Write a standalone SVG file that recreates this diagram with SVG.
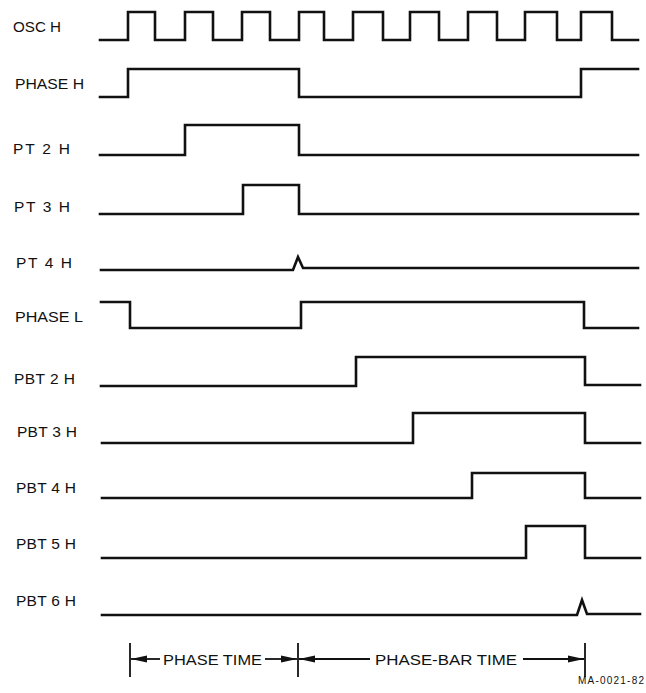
<svg xmlns="http://www.w3.org/2000/svg" width="646" height="693" viewBox="0 0 646 693">
<style>
.bg{fill:#ffffff}
.w{fill:none;stroke:#111;stroke-width:2.6;stroke-linejoin:miter;stroke-linecap:square}
.lbl{font-family:"Liberation Sans",Arial,sans-serif;font-size:15.5px;fill:#111}
.dim{fill:none;stroke:#111;stroke-width:1.8}
.tick{fill:none;stroke:#111;stroke-width:1.8}
.note{font-family:"Liberation Sans",Arial,sans-serif;font-size:10px;fill:#111}
</style>
<defs>
<marker id="ah" viewBox="0 0 16 10" refX="16" refY="5" markerWidth="16" markerHeight="10" markerUnits="userSpaceOnUse" orient="auto-start-reverse">
<path d="M0,1.5 L16,5 L0,8.5 Z" fill="#111"/>
</marker>
</defs>
<rect class="bg" x="0" y="0" width="646" height="693"/>
<g id="osc-h">
<text class="lbl" x="13" y="32" textLength="48" lengthAdjust="spacingAndGlyphs">OSC H</text>
<path class="w" d="M100,40 H128 V12 H155 V40 H185 V12 H213 V40 H242 V12 H270 V40 H299 V12 H324 V40 H353 V12 H383 V40 H410 V12 H439 V40 H468 V12 H497 V40 H525 V12 H557 V40 H581 V12 H612 V40 H638"/>
</g>
<g id="phase-h">
<text class="lbl" x="15" y="89" textLength="69" lengthAdjust="spacingAndGlyphs">PHASE H</text>
<path class="w" d="M100,97 H128 V69 H299 V97 H581 V69 H638"/>
</g>
<g id="pt2-h">
<text class="lbl" x="13" y="154" textLength="57" lengthAdjust="spacing">PT 2 H</text>
<path class="w" d="M100,155 H185 V125 H299 V155 H638"/>
</g>
<g id="pt3-h">
<text class="lbl" x="14" y="212" textLength="56" lengthAdjust="spacing">PT 3 H</text>
<path class="w" d="M100,214 H243 V185 H299 V214 H638"/>
</g>
<g id="pt4-h">
<text class="lbl" x="16" y="268" textLength="56" lengthAdjust="spacing">PT 4 H</text>
<path class="w" d="M101,270 H293 L298,257 L303,268 H638"/>
</g>
<g id="phase-l">
<text class="lbl" x="15" y="322" textLength="68" lengthAdjust="spacingAndGlyphs">PHASE L</text>
<path class="w" d="M101,302 H130 V328 H301 V302 H584 V328 H638"/>
</g>
<g id="pbt2-h">
<text class="lbl" x="14" y="384" textLength="61" lengthAdjust="spacing">PBT 2 H</text>
<path class="w" d="M101,386 H356 V357 H585 V385 H640"/>
</g>
<g id="pbt3-h">
<text class="lbl" x="17" y="437" textLength="60" lengthAdjust="spacing">PBT 3 H</text>
<path class="w" d="M102,443 H413 V413 H585 V443 H640"/>
</g>
<g id="pbt4-h">
<text class="lbl" x="16" y="493" textLength="60" lengthAdjust="spacing">PBT 4 H</text>
<path class="w" d="M102,498 H472 V473 H585 V498 H640"/>
</g>
<g id="pbt5-h">
<text class="lbl" x="16" y="549" textLength="60" lengthAdjust="spacing">PBT 5 H</text>
<path class="w" d="M102,558 H526 V526 H585 V558 H640"/>
</g>
<g id="pbt6-h">
<text class="lbl" x="16" y="606" textLength="60" lengthAdjust="spacing">PBT 6 H</text>
<path class="w" d="M102,615 H577 L582,600 L587,614 H640"/>
</g>
<g id="connectors">
<line class="tick" x1="130" y1="643" x2="130" y2="677"/>
<line class="tick" x1="298" y1="643" x2="298" y2="677"/>
<line class="tick" x1="585" y1="643" x2="585" y2="677"/>
<line class="dim" x1="160" y1="659" x2="131" y2="659" marker-end="url(#ah)"/>
<line class="dim" x1="265" y1="659" x2="297" y2="659" marker-end="url(#ah)"/>
<line class="dim" x1="370" y1="659" x2="299" y2="659" marker-end="url(#ah)"/>
<line class="dim" x1="523" y1="659" x2="584" y2="659" marker-end="url(#ah)"/>
</g>
<g id="dimension-labels">
<text class="lbl" x="163" y="665" textLength="99" lengthAdjust="spacingAndGlyphs">PHASE TIME</text>
<text class="lbl" x="375" y="665" textLength="142" lengthAdjust="spacingAndGlyphs">PHASE-BAR TIME</text>
<text class="note" x="578" y="684" textLength="66" lengthAdjust="spacing">MA-0021-82</text>
</g>
</svg>
